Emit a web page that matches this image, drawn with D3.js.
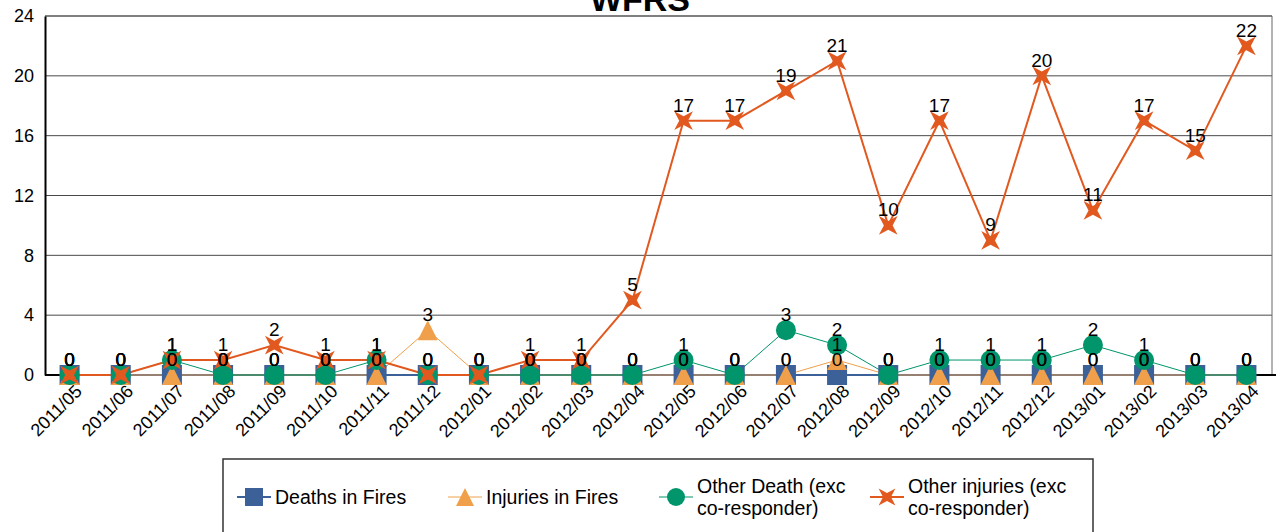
<!DOCTYPE html>
<html>
<head>
<meta charset="utf-8">
<script src="https://cdn.jsdelivr.net/npm/d3@7"></script>
<style>
  body { margin: 0; background: #fff; }
  svg { display: block; font-family: 'Liberation Sans', Arial, sans-serif; }
</style>
</head>
<body>
<div id="chart"></div>
<script>
const months = ['2011/05', '2011/06', '2011/07', '2011/08', '2011/09', '2011/10', '2011/11', '2011/12',
  '2012/01', '2012/02', '2012/03', '2012/04', '2012/05', '2012/06', '2012/07', '2012/08',
  '2012/09', '2012/10', '2012/11', '2012/12', '2013/01', '2013/02', '2013/03', '2013/04'];

const deathsInFires = [0, 0, 0, 0, 0, 0, 0, 0, 0, 0, 0, 0, 0, 0, 0, 0, 0, 0, 0, 0, 0, 0, 0, 0];
const injuriesInFires = [0, 0, 0, 0, 0, 0, 0, 3, 0, 0, 0, 0, 0, 0, 0, 1, 0, 0, 0, 0, 0, 0, 0, 0];
const otherDeath = [0, 0, 1, 0, 0, 0, 1, 0, 0, 0, 0, 0, 1, 0, 3, 2, 0, 1, 1, 1, 2, 1, 0, 0];
const otherInjuries = [0, 0, 1, 1, 2, 1, 1, 0, 0, 1, 1, 5, 17, 17, 19, 21, 10, 17, 9, 20, 11, 17, 15, 22];

const yTicks = [0, 4, 8, 12, 16, 20, 24];

const series = [
  { name: ['Deaths in Fires'], values: deathsInFires, color: '#3b6198', marker: 'square', lw: 2 },
  { name: ['Injuries in Fires'], values: injuriesInFires, color: '#f0a04b', marker: 'triangle', lw: 1 },
  { name: ['Other Death (exc', 'co-responder)'], values: otherDeath, color: '#00956b', marker: 'circle', lw: 1 },
  { name: ['Other injuries (exc', 'co-responder)'], values: otherInjuries, color: '#e2591f', marker: 'star', lw: 2 },
];

const width = 1276;
const height = 532;
const plot = { left: 45, right: 1272, top: 16, bottom: 375 };

const svg = d3.select('#chart').append('svg')
  .attr('width', width)
  .attr('height', height);

const x = d3.scaleBand().domain(months).range([plot.left - 1, plot.right]);
const cx = m => x(m) + x.bandwidth() / 2;
const y = d3.scaleLinear().domain([0, 24]).range([plot.bottom, plot.top]);

// grid
svg.append('g').selectAll('line')
  .data(yTicks.filter(t => t > 0 && t < 24))
  .enter().append('line')
    .attr('x1', plot.left).attr('x2', plot.right)
    .attr('y1', d => y(d)).attr('y2', d => y(d))
    .attr('stroke', '#4a4a4a').attr('stroke-width', 1);

// frame
svg.append('line')
  .attr('x1', plot.left).attr('x2', plot.right)
  .attr('y1', plot.top).attr('y2', plot.top)
  .attr('stroke', '#000').attr('stroke-width', 1.2);
svg.append('line')
  .attr('x1', plot.right).attr('x2', plot.right)
  .attr('y1', plot.top).attr('y2', plot.bottom)
  .attr('stroke', '#666').attr('stroke-width', 1);

// y axis
const yAxis = svg.append('g')
  .attr('transform', `translate(${plot.left},0)`)
  .call(d3.axisLeft(y).tickValues(yTicks).tickSize(0).tickPadding(11));
yAxis.select('.domain').attr('stroke', '#000').attr('stroke-width', 2);
yAxis.selectAll('text').attr('font-size', 18).attr('fill', '#000')
  .attr('font-family', "'Liberation Sans', Arial, sans-serif");

// x axis
svg.append('line')
  .attr('x1', plot.left).attr('x2', width)
  .attr('y1', plot.bottom).attr('y2', plot.bottom)
  .attr('stroke', '#000').attr('stroke-width', 2);

svg.append('g').selectAll('text')
  .data(months)
  .enter().append('text')
    .attr('transform', d => `translate(${cx(d) + 9},${plot.bottom + 13}) rotate(-45)`)
    .attr('text-anchor', 'end')
    .attr('dy', '0.35em')
    .attr('font-size', 18)
    .text(d => d);

// markers
const starPath = (r, ri) => {
  let pts = [];
  for (let i = 0; i < 8; i++) {
    const a = Math.PI / 4 + i * Math.PI / 4;
    const rr = i % 2 === 0 ? r : ri;
    pts.push([rr * Math.cos(a), rr * Math.sin(a)]);
  }
  return 'M' + pts.map(p => p.join(',')).join('L') + 'Z';
};

function drawMarker(g, type, color, s) {
  if (type === 'square') {
    g.append('rect').attr('x', -s / 2).attr('y', -s / 2).attr('width', s).attr('height', s).attr('fill', color);
  } else if (type === 'triangle') {
    g.append('path').attr('d', `M0,${-s / 2}L${s / 2},${s / 2}L${-s / 2},${s / 2}Z`).attr('fill', color);
  } else if (type === 'circle') {
    g.append('circle').attr('r', s / 2).attr('fill', color);
  } else {
    g.append('path').attr('d', starPath(s * 0.66, s * 0.22)).attr('fill', color);
  }
}

const line = d3.line().x((d, i) => cx(months[i])).y(d => y(d));

series.forEach(s => {
  svg.append('path')
    .datum(s.values)
    .attr('d', line)
    .attr('fill', 'none')
    .attr('stroke', s.color)
    .attr('stroke-width', s.lw);
});

series.forEach(s => {
  svg.append('g').selectAll('g')
    .data(s.values)
    .enter().append('g')
      .attr('transform', (d, i) => `translate(${cx(months[i])},${y(d)})`)
      .each(function() { drawMarker(d3.select(this), s.marker, s.color, 20); });
});

// data labels
series.forEach(s => {
  svg.append('g').selectAll('text')
    .data(s.values)
    .enter().append('text')
      .attr('x', (d, i) => cx(months[i]))
      .attr('y', d => y(d) - 9)
      .attr('text-anchor', 'middle')
      .attr('font-size', 19)
      .attr('fill', '#000')
      .text(d => d);
});

// title
svg.append('text')
  .attr('x', 640).attr('y', 11)
  .attr('text-anchor', 'middle')
  .attr('font-size', 34)
  .attr('font-weight', 'bold')
  .text('WFRS');

// legend
const legend = svg.append('g');
legend.append('rect')
  .attr('x', 223).attr('y', 459)
  .attr('width', 870).attr('height', 90)
  .attr('fill', 'none').attr('stroke', '#333').attr('stroke-width', 1.5);

series.forEach((s, i) => {
  const lx = 254 + i * 211;
  const ly = 497;
  const item = legend.append('g').attr('transform', `translate(${lx},${ly})`);
  item.append('line').attr('x1', -17).attr('x2', 17).attr('stroke', s.color).attr('stroke-width', s.lw);
  drawMarker(item, s.marker, s.color, 18);
  const t = item.append('text').attr('font-size', 19.5).attr('fill', '#000');
  const y0 = s.name.length === 1 ? 0 : -11;
  s.name.forEach((n, j) => {
    t.append('tspan').attr('x', 21).attr('y', y0 + j * 22).attr('dy', '0.35em').text(n);
  });
});
</script>
</body>
</html>
